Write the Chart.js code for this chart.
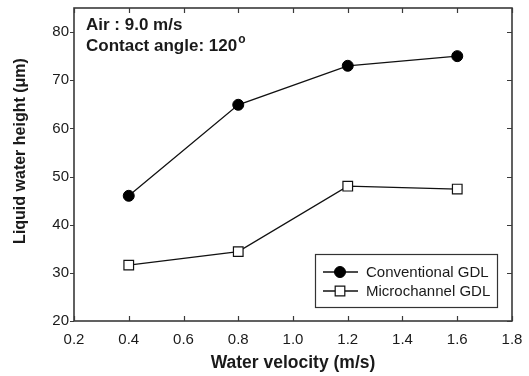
<!DOCTYPE html>
<html>
<head>
<meta charset="utf-8">
<script src="https://cdn.jsdelivr.net/npm/chart.js@4/dist/chart.umd.min.js"></script>
<style>
html,body{margin:0;padding:0;background:#fff;}
#wrap{width:529px;height:376px;position:relative;}
</style>
</head>
<body>
<div id="wrap"><canvas id="c" width="529" height="376"></canvas></div>
<script>
// ---- data ----
const waterVelocity = [0.4, 0.8, 1.2, 1.6];
const conventionalGDL = [46.0, 64.9, 73.0, 75.0];
const microchannelGDL = [31.6, 34.4, 48.0, 47.4];
const seriesNames = ['Conventional GDL', 'Microchannel GDL'];
const xTicks = [0.2, 0.4, 0.6, 0.8, 1.0, 1.2, 1.4, 1.6, 1.8];
const yTicks = [20, 30, 40, 50, 60, 70, 80];
const xTitle = 'Water velocity (m/s)';
const yTitle = 'Liquid water height (\u03bcm)';
const noteLine1 = 'Air : 9.0 m/s';
const noteLine2 = 'Contact angle: 120';
const noteSup = 'o';

const FONT = '"Liberation Sans", Arial, sans-serif';
const INK = '#1a1a1a';

const framePlugin = {
  id: 'frame',
  afterDraw(chart) {
    const ctx = chart.ctx;
    const a = chart.chartArea;
    const xs = chart.scales.x, ys = chart.scales.y;
    ctx.save();
    ctx.strokeStyle = '#3a3a3a';
    ctx.lineWidth = 1.6;
    ctx.strokeRect(a.left, a.top, a.right - a.left, a.bottom - a.top);
    ctx.lineWidth = 1.2;
    ctx.beginPath();
    xTicks.forEach(v => {
      const px = Math.round(xs.getPixelForValue(v)) + 0.5;
      ctx.moveTo(px, a.bottom); ctx.lineTo(px, a.bottom - 5);
      ctx.moveTo(px, a.top); ctx.lineTo(px, a.top + 5);
    });
    yTicks.forEach(v => {
      const py = Math.round(ys.getPixelForValue(v)) + 0.5;
      ctx.moveTo(a.left, py); ctx.lineTo(a.left - 4, py);
      ctx.moveTo(a.right, py); ctx.lineTo(a.right - 5, py);
    });
    ctx.stroke();

    // y-axis title
    ctx.save();
    ctx.translate(21, 151);
    ctx.rotate(-Math.PI / 2);
    ctx.fillStyle = INK;
    ctx.font = 'bold 16px ' + FONT;
    ctx.textAlign = 'center';
    ctx.textBaseline = 'middle';
    ctx.fillText(yTitle, 0, 0);
    ctx.restore();

    // annotation
    ctx.fillStyle = INK;
    ctx.font = 'bold 17px ' + FONT;
    ctx.textBaseline = 'middle';
    ctx.textAlign = 'left';
    ctx.fillText(noteLine1, 86, 25);
    ctx.fillText(noteLine2, 86, 46);
    const w = ctx.measureText(noteLine2).width;
    ctx.font = 'bold 12px ' + FONT;
    ctx.fillText(noteSup, 86 + w + 1, 40);

    // legend
    const lx = 315, ly = 254, lw = 182, lh = 53;
    ctx.fillStyle = '#fff';
    ctx.fillRect(lx, ly, lw, lh);
    ctx.strokeStyle = '#333';
    ctx.lineWidth = 1.2;
    ctx.strokeRect(lx + 0.5, ly + 0.5, lw, lh);
    const rows = [272, 291];
    chart.data.datasets.forEach((ds, i) => {
      const y = rows[i];
      ctx.strokeStyle = ds.borderColor;
      ctx.lineWidth = 1.3;
      ctx.beginPath();
      ctx.moveTo(323, y); ctx.lineTo(358, y);
      ctx.stroke();
      ctx.fillStyle = ds.pointBackgroundColor;
      ctx.strokeStyle = ds.pointBorderColor;
      ctx.lineWidth = ds.pointBorderWidth;
      ctx.beginPath();
      if (ds.pointStyle === 'circle') {
        ctx.arc(340, y, ds.pointRadius, 0, Math.PI * 2);
      } else {
        const s = ds.pointRadius * Math.SQRT1_2;
        ctx.rect(340 - s, y - s, 2 * s, 2 * s);
      }
      ctx.fill(); ctx.stroke();
      ctx.fillStyle = INK;
      ctx.font = '15px ' + FONT;
      ctx.textAlign = 'left';
      ctx.textBaseline = 'middle';
      ctx.fillText(ds.label, 366, y + 1);
    });
    ctx.restore();
  }
};

new Chart(document.getElementById('c'), {
  type: 'line',
  data: {
    datasets: [
      {
        label: seriesNames[0],
        data: waterVelocity.map((x, i) => ({x, y: conventionalGDL[i]})),
        borderColor: '#111',
        borderWidth: 1.3,
        pointStyle: 'circle',
        pointRadius: 5.5,
        pointBackgroundColor: '#000',
        pointBorderColor: '#000',
        pointBorderWidth: 1,
        tension: 0
      },
      {
        label: seriesNames[1],
        data: waterVelocity.map((x, i) => ({x, y: microchannelGDL[i]})),
        borderColor: '#111',
        borderWidth: 1.3,
        pointStyle: 'rect',
        pointRadius: 6.8,
        pointBackgroundColor: '#fff',
        pointBorderColor: '#111',
        pointBorderWidth: 1.2,
        tension: 0
      }
    ]
  },
  options: {
    responsive: false,
    animation: false,
    devicePixelRatio: 1,
    layout: { padding: { top: 6, right: 17, left: 0, bottom: 0 } },
    plugins: { legend: { display: false }, tooltip: { enabled: false } },
    scales: {
      x: {
        type: 'linear',
        min: 0.2, max: 1.8,
        afterBuildTicks: s => { s.ticks = xTicks.map(v => ({value: v})); },
        afterFit: s => { s.height = 55; s.paddingLeft = 0; s.paddingRight = 0; },
        grid: { display: false, drawTicks: false },
        border: { display: false },
        ticks: {
          color: INK, padding: 10, maxRotation: 0,
          font: { family: FONT, size: 15 },
          callback: v => Number(v).toFixed(1)
        },
        title: {
          display: true, text: xTitle, color: INK,
          font: { family: FONT, size: 17.5, weight: 'bold' },
          padding: { top: 0, bottom: 2 }
        }
      },
      y: {
        type: 'linear',
        min: 20, max: 85,
        afterBuildTicks: s => { s.ticks = yTicks.map(v => ({value: v})); },
        afterFit: s => { s.width = 74; s.paddingTop = 0; s.paddingBottom = 0; },
        grid: { display: false, drawTicks: false },
        border: { display: false },
        ticks: {
          color: INK, padding: 5,
          font: { family: FONT, size: 15 }
        },
        title: { display: false, text: yTitle }
      }
    }
  },
  plugins: [framePlugin]
});
</script>
</body>
</html>
